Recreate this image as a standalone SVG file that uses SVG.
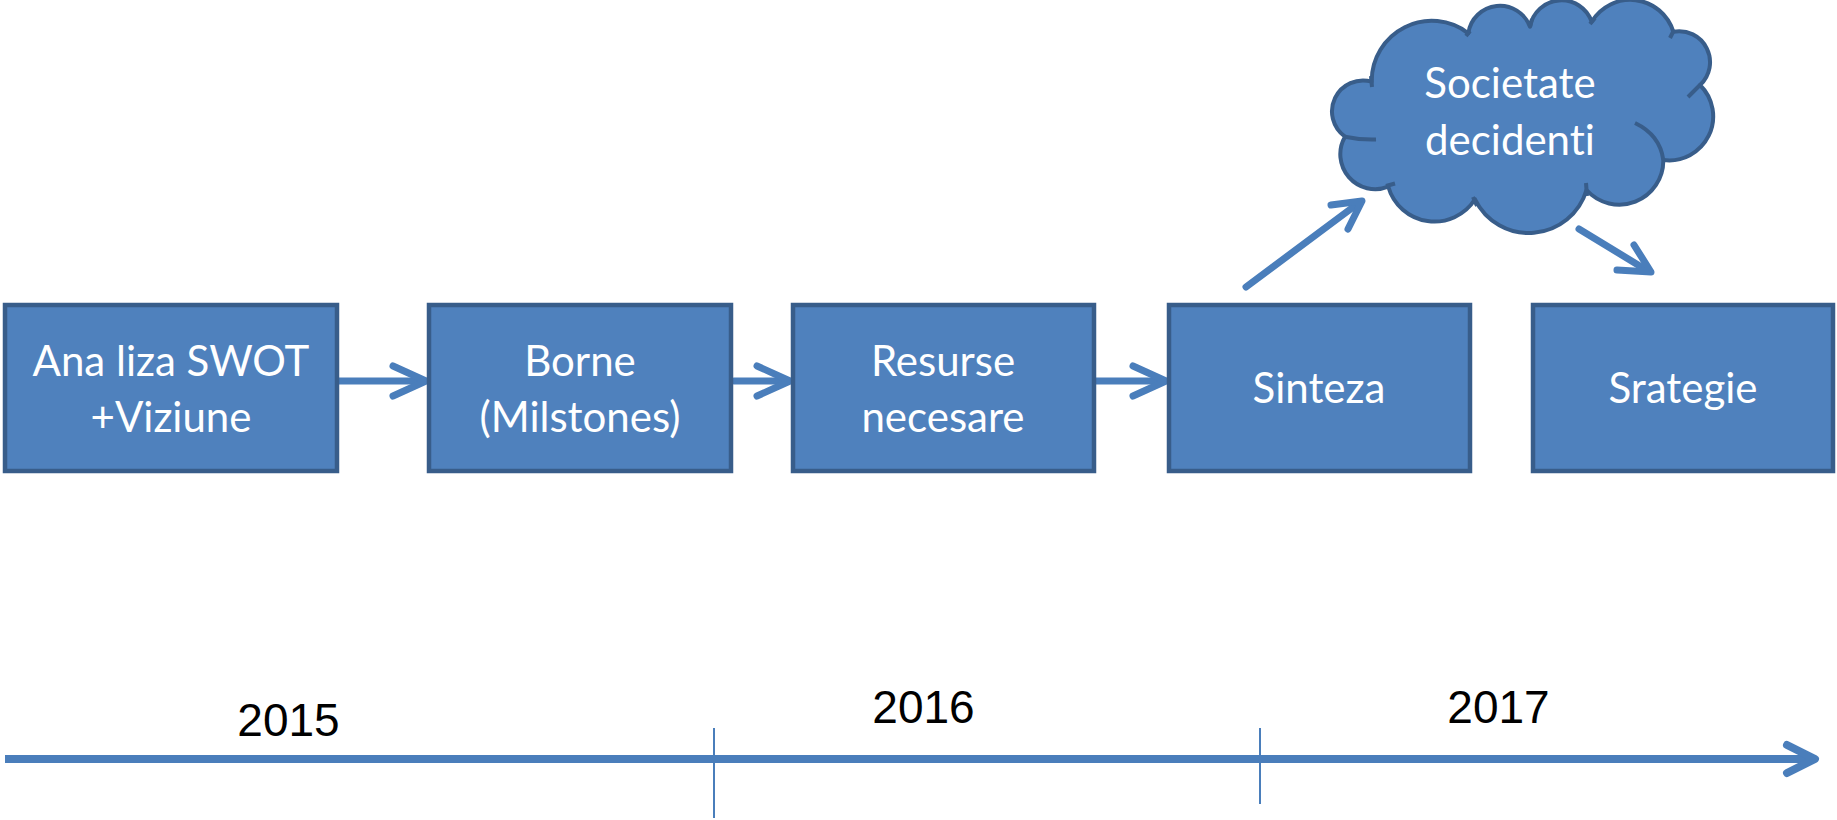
<svg xmlns="http://www.w3.org/2000/svg" width="1837" height="820" viewBox="0 0 1837 820">
<style>
.box{fill:#4f81bd;stroke:#385d8a;stroke-width:4.5}
.lbl{font-family:Lato,"Liberation Sans",sans-serif;font-size:42px;fill:#ffffff;text-anchor:middle;font-variant-ligatures:none;font-feature-settings:"liga" 0,"clig" 0}
.yr{font-family:"Liberation Sans",Arial,sans-serif;font-size:46px;fill:#000000;text-anchor:middle}
.arr{fill:none;stroke:#4a7ebb;stroke-width:7;stroke-linecap:round;stroke-linejoin:round}
.tl{fill:none;stroke:#4a7ebb;stroke-width:8;stroke-linecap:butt}
.tlh{fill:none;stroke:#4a7ebb;stroke-width:8;stroke-linecap:round;stroke-linejoin:round}
.tick{stroke:#4a7ebb;stroke-width:2}
.cl{stroke:#385d8a;stroke-width:4;stroke-linejoin:round;stroke-linecap:butt}
</style>
<rect width="1837" height="820" fill="#ffffff"/>
<g id="connectors">
<line class="arr" x1="339" y1="381" x2="424" y2="381"/>
<polyline class="arr" points="393,366 426,381 393,396"/>
<line class="arr" x1="734" y1="381" x2="788" y2="381"/>
<polyline class="arr" points="757,366 790,381 757,396"/>
<line class="arr" x1="1096" y1="381" x2="1164" y2="381"/>
<polyline class="arr" points="1133,366 1166,381 1133,396"/>
<line class="arr" x1="1246" y1="287" x2="1360" y2="202"/>
<polyline class="arr" points="1331,205 1362,201 1348,229"/>
<line class="arr" x1="1579" y1="229" x2="1648" y2="271"/>
<polyline class="arr" points="1617,270 1651,272 1634,245"/>
</g>
<g id="timeline">
<line class="tl" x1="5" y1="759" x2="1812" y2="759"/>
<polyline class="tlh" points="1787,745 1815,759 1787,773"/>
<line class="tick" x1="714" y1="728" x2="714" y2="818"/>
<line class="tick" x1="1260" y1="728" x2="1260" y2="804"/>
<text class="yr" x="288.5" y="736">2015</text>
<text class="yr" x="923.5" y="723">2016</text>
<text class="yr" x="1498.5" y="723">2017</text>
</g>
<g id="node-swot">
<rect class="box" x="5" y="305" width="332" height="166"/>
<text class="lbl" x="171" y="376">Ana liza SWOT</text>
<text class="lbl" x="171" y="432">+Viziune</text>
</g>
<g id="node-borne">
<rect class="box" x="429" y="305" width="302" height="166"/>
<text class="lbl" x="580" y="376">Borne</text>
<text class="lbl" x="580" y="432">(Milstones)</text>
</g>
<g id="node-resurse">
<rect class="box" x="793" y="305" width="301" height="166"/>
<text class="lbl" x="943" y="376">Resurse</text>
<text class="lbl" x="943" y="432">necesare</text>
</g>
<g id="node-sinteza">
<rect class="box" x="1169" y="305" width="301" height="166"/>
<text class="lbl" x="1319" y="403">Sinteza</text>
</g>
<g id="node-strategie">
<rect class="box" x="1533" y="305" width="300" height="166"/>
<text class="lbl" x="1683" y="403">Srategie</text>
</g>
<g id="node-cloud">
<path class="cl" fill="#4f81bd" d="M1371.7,81.7 A31 31 0 0 0 1345,136.7 A35 35 0 0 0 1388.3,186.7 A48 48 0 0 0 1475,199.3 A60 60 0 0 0 1586.5,190 A44 44 0 0 0 1663.3,160 A44 44 0 0 0 1700,85 A31 31 0 0 0 1673.3,31.7 A45 45 0 0 0 1591.7,21.7 A32 32 0 0 0 1530,26.7 A32 32 0 0 0 1468.3,33.3 A60 60 0 0 0 1371.7,81.7 Z"/>
<path class="cl" fill="none" d="M1371,76 L1372,87 M1345,136.7 Q1360,140 1376,139.5 M1386,186 L1395,183.5 M1473,197 L1477,206 M1586,183 L1587,196 M1635,123 Q1660,135 1663.3,160 M1700,85 L1688,97 M1670,38 L1674,30 M1590,24 L1595,18 M1530,27 L1532,19 M1466,36 L1470,31"/>
<text class="lbl" x="1510" y="98">Societate</text>
<text class="lbl" x="1510" y="155">decidenti</text>
</g>
</svg>
